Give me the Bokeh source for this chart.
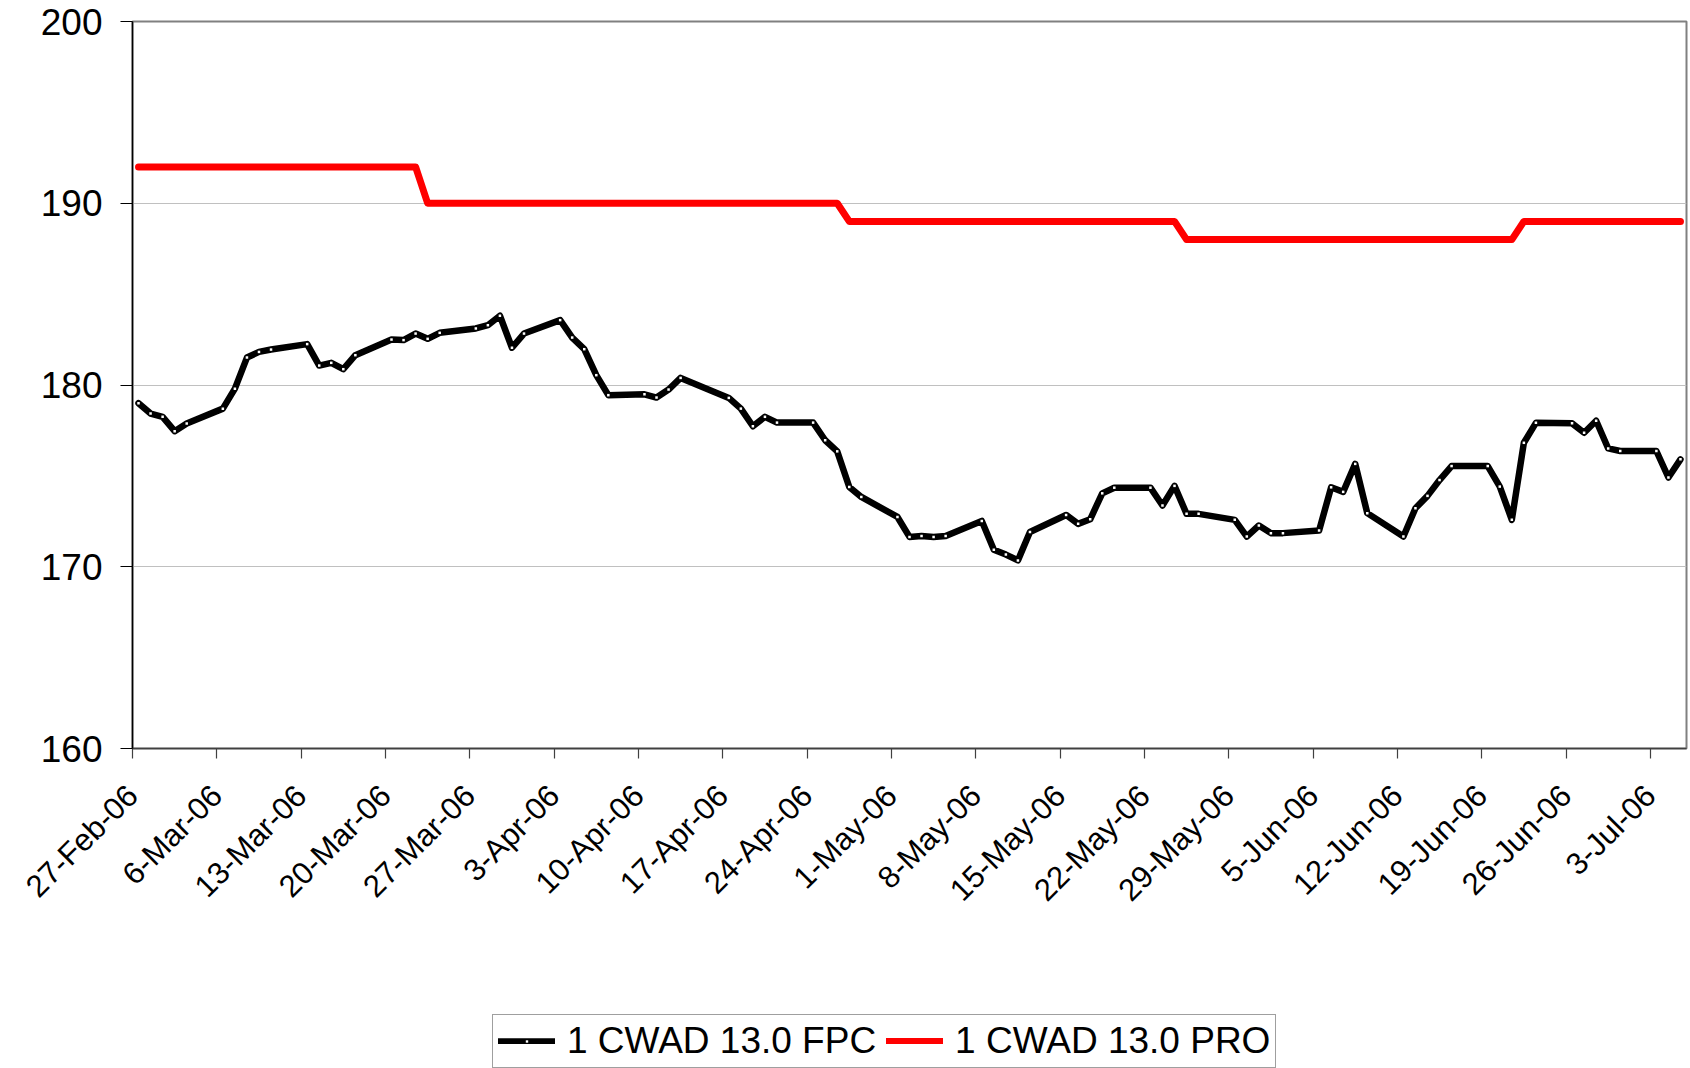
import math
import pandas as pd
from bokeh.plotting import figure
from bokeh.layouts import column
from bokeh.models import FixedTicker, Legend, LegendItem, Range1d
from bokeh.embed import file_html
from bokeh.resources import INLINE

dates = [
    "2006-02-27", "2006-02-28", "2006-03-01", "2006-03-02", "2006-03-03",
    "2006-03-06", "2006-03-07", "2006-03-08", "2006-03-09", "2006-03-10",
    "2006-03-13", "2006-03-14", "2006-03-15", "2006-03-16", "2006-03-17",
    "2006-03-20", "2006-03-21", "2006-03-22", "2006-03-23", "2006-03-24",
    "2006-03-27", "2006-03-28", "2006-03-29", "2006-03-30", "2006-03-31",
    "2006-04-03", "2006-04-04", "2006-04-05", "2006-04-06", "2006-04-07",
    "2006-04-10", "2006-04-11", "2006-04-12", "2006-04-13",
    "2006-04-17", "2006-04-18", "2006-04-19", "2006-04-20", "2006-04-21",
    "2006-04-24", "2006-04-25", "2006-04-26", "2006-04-27", "2006-04-28",
    "2006-05-01", "2006-05-02", "2006-05-03", "2006-05-04", "2006-05-05",
    "2006-05-08", "2006-05-09", "2006-05-10", "2006-05-11", "2006-05-12",
    "2006-05-15", "2006-05-16", "2006-05-17", "2006-05-18", "2006-05-19",
    "2006-05-22", "2006-05-23", "2006-05-24", "2006-05-25", "2006-05-26",
    "2006-05-29", "2006-05-30", "2006-05-31", "2006-06-01", "2006-06-02",
    "2006-06-05", "2006-06-06", "2006-06-07", "2006-06-08", "2006-06-09",
    "2006-06-12", "2006-06-13", "2006-06-14", "2006-06-15", "2006-06-16",
    "2006-06-19", "2006-06-20", "2006-06-21", "2006-06-22", "2006-06-23",
    "2006-06-26", "2006-06-27", "2006-06-28", "2006-06-29", "2006-06-30",
    "2006-07-03", "2006-07-04", "2006-07-05",
]

fpc = [
    179.00, 178.43, 178.25, 177.46, 177.88,
    178.70, 179.80, 181.51, 181.82, 181.95,
    182.25, 181.07, 181.22, 180.87, 181.64,
    182.50, 182.47, 182.83, 182.54, 182.87,
    183.11, 183.29, 183.81, 182.05, 182.83,
    183.57, 182.61, 181.97, 180.54, 179.44,
    179.49, 179.31, 179.75, 180.39,
    179.29, 178.70, 177.73, 178.25, 177.93,
    177.93, 176.96, 176.35, 174.39, 173.84,
    172.74, 171.64, 171.69, 171.64, 171.69,
    172.52, 170.94, 170.67, 170.35, 171.91,
    172.85, 172.36, 172.61, 174.04, 174.35,
    174.35, 173.37, 174.45, 172.91, 172.91,
    172.58, 171.66, 172.27, 171.85, 171.85,
    171.99, 174.37, 174.12, 175.66, 172.95,
    171.66, 173.22, 173.90, 174.77, 175.54,
    175.54, 174.41, 172.58, 176.82, 177.92,
    177.89, 177.37, 178.03, 176.51, 176.37,
    176.37, 174.91, 175.91,
]

pro = [
    192, 192, 192, 192, 192,
    192, 192, 192, 192, 192,
    192, 192, 192, 192, 192,
    192, 192, 192, 190, 190,
    190, 190, 190, 190, 190,
    190, 190, 190, 190, 190,
    190, 190, 190, 190,
    190, 190, 190, 190, 190,
    190, 190, 190, 189, 189,
    189, 189, 189, 189, 189,
    189, 189, 189, 189, 189,
    189, 189, 189, 189, 189,
    189, 189, 189, 188, 188,
    188, 188, 188, 188, 188,
    188, 188, 188, 188, 188,
    188, 188, 188, 188, 188,
    188, 188, 188, 189, 189,
    189, 189, 189, 189, 189,
    189, 189, 189,
]

series_names = ["1 CWAD 13.0 FPC", "1 CWAD 13.0 PRO"]

x_tick_dates = [
    "2006-02-27", "2006-03-06", "2006-03-13", "2006-03-20", "2006-03-27",
    "2006-04-03", "2006-04-10", "2006-04-17", "2006-04-24", "2006-05-01",
    "2006-05-08", "2006-05-15", "2006-05-22", "2006-05-29", "2006-06-05",
    "2006-06-12", "2006-06-19", "2006-06-26", "2006-07-03",
]
x_tick_labels = [
    "27-Feb-06", "6-Mar-06", "13-Mar-06", "20-Mar-06", "27-Mar-06",
    "3-Apr-06", "10-Apr-06", "17-Apr-06", "24-Apr-06", "1-May-06",
    "8-May-06", "15-May-06", "22-May-06", "29-May-06", "5-Jun-06",
    "12-Jun-06", "19-Jun-06", "26-Jun-06", "3-Jul-06",
]
y_ticks = [160, 170, 180, 190, 200]

FONT = "Liberation Sans"
DAY_MS = 86400000.0


def ms(d):
    return pd.Timestamp(d).value / 1e6


# Excel date axis: each point sits in the middle of its day
x = [ms(d) + 0.5 * DAY_MS for d in dates]
tick_ms = [ms(d) for d in x_tick_dates]

p = figure(
    width=1688, height=1004,
    x_axis_type="datetime",
    x_range=Range1d(ms("2006-02-27"), ms("2006-07-06")),
    y_range=Range1d(160, 200),
    output_backend="svg", toolbar_location=None,
    min_border_left=132, min_border_right=2,
    min_border_top=21, min_border_bottom=256,
)
p.background_fill_color = "white"
p.border_fill_color = "white"
p.outline_line_color = "#808080"
p.outline_line_width = 2

p.xgrid.grid_line_color = None
p.ygrid.grid_line_color = "#c0c0c0"
p.ygrid.grid_line_width = 1

# y axis
p.yaxis.ticker = FixedTicker(ticks=y_ticks)
p.yaxis.axis_line_color = "#000000"
p.yaxis.axis_line_width = 1.5
p.yaxis.major_tick_line_color = "#000000"
p.yaxis.major_tick_line_width = 1.2
p.yaxis.major_tick_in = 0
p.yaxis.major_tick_out = 12
p.yaxis.minor_tick_line_color = None
p.yaxis.major_label_text_font = FONT
p.yaxis.major_label_text_font_size = "37px"
p.yaxis.major_label_text_color = "#000000"
p.yaxis.major_label_standoff = 18

# x axis
p.xaxis.ticker = FixedTicker(ticks=tick_ms)
p.xaxis.major_label_overrides = {t: lab for t, lab in zip(tick_ms, x_tick_labels)}
p.xaxis.major_label_orientation = math.pi / 4
p.xaxis.major_label_text_font = FONT
p.xaxis.major_label_text_font_size = "31px"
p.xaxis.major_label_text_color = "#000000"
p.xaxis.major_label_standoff = 32
p.xaxis.axis_line_color = "#404040"
p.xaxis.axis_line_width = 1.5
p.xaxis.major_tick_line_color = "#404040"
p.xaxis.major_tick_line_width = 1.2
p.xaxis.major_tick_in = 0
p.xaxis.major_tick_out = 10
p.xaxis.minor_tick_line_color = None

r_pro = p.line(x, pro, line_color="#ff0000", line_width=7,
               line_join="round", line_cap="round")
r_fpc = p.line(x, fpc, line_color="#000000", line_width=6.5,
               line_join="round", line_cap="round")
r_dots = p.scatter(x, fpc, marker="square", size=2.5,
                   fill_color="white", line_color=None)

# legend strip below the chart (its renderers use the same series, drawn
# outside this strip's ranges so only the legend shows)
lg = figure(
    width=1688, height=64,
    x_range=Range1d(0, 1), y_range=Range1d(0, 1),
    x_axis_location=None, y_axis_location=None,
    output_backend="svg", toolbar_location=None,
    min_border=0,
)
lg.outline_line_color = None
lg.grid.grid_line_color = None
lg.background_fill_color = "white"
lg.border_fill_color = "white"
k_fpc = lg.line(x, fpc, line_color="#000000", line_width=6.5, line_cap="round")
k_dot = lg.scatter(x, fpc, marker="square", size=2.5,
                   fill_color="white", line_color=None)
k_pro = lg.line(x, pro, line_color="#ff0000", line_width=7, line_cap="round")

legend = Legend(
    items=[
        LegendItem(label=series_names[0], renderers=[k_fpc, k_dot]),
        LegendItem(label=series_names[1], renderers=[k_pro]),
    ],
    orientation="horizontal",
    location=(360, 0),
    label_text_font=FONT,
    label_text_font_size="37px",
    label_text_color="#000000",
    glyph_width=57,
    glyph_height=6,
    label_standoff=12,
    spacing=10,
    padding=5,
    margin=0,
    border_line_color="#404040",
    border_line_width=1,
    background_fill_color="white",
    background_fill_alpha=1.0,
)
lg.add_layout(legend)

layout = column(p, lg, spacing=0)
open("out.html", "w").write(file_html(layout, INLINE))
